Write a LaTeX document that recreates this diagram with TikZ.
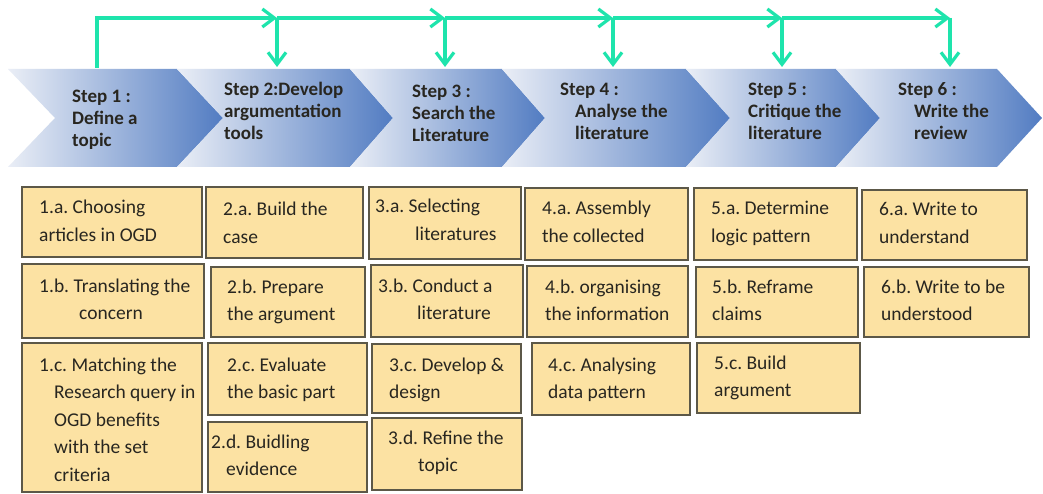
\documentclass[tikz,border=0pt]{standalone}
\usepackage{fontspec}
\setmainfont{Carlito}
\usetikzlibrary{arrows.meta,fit}
\definecolor{arrowc}{RGB}{30,228,172}
\definecolor{chevL}{RGB}{234,238,246}
\definecolor{chevR}{RGB}{82,124,194}
\definecolor{boxfill}{RGB}{252,226,163}
\definecolor{boxline}{RGB}{92,88,72}
\definecolor{txt}{RGB}{40,38,32}
\newcommand\mylines[1]{\begin{tabular}[t]{@{}l@{}}#1\end{tabular}}
\tikzset{
  flow/.style={draw=arrowc, line width=3.2pt, -{Straight Barb[length=12pt,width=18pt]}},
  boxst/.style={draw=boxline, fill=boxfill, line width=2pt, inner sep=0pt},
  boxtxt/.style={anchor=base west, inner sep=0pt, text=txt,
    font=\fontsize{19.5}{27.5}\selectfont\frenchspacing},
  steptxt/.style={anchor=base west, inner sep=0pt, text=txt,
    font=\fontsize{19}{22}\selectfont\bfseries\frenchspacing},
}
\newcommand\chev[4]{% left, notch, right-top, tip
  \shade[left color=chevL, right color=chevR]
    (#1,69) -- (#3,69) -- (#4,118) -- (#3,167) -- (#1,167) -- (#2,118) -- cycle;}
\newcommand\tbox[8]{%
  \coordinate (#1nw) at (#2,#3);
  \coordinate (#1se) at (#4,#5);
  \node[boxst, fit=(#1nw)(#1se)] (#1box) {};
  \node[boxtxt] (#1) at (#6,#7) {\mylines{#8}};}
\begin{document}
\begin{tikzpicture}[x=1pt,y=-1pt]
\useasboundingbox (0,0) rectangle (1043,494);
\fill[white] (0,0) rectangle (1043,494);
% chevrons
\chev{8}{55}{177}{223}
\chev{177}{223}{350}{393}
\chev{350}{393}{502}{545}
\chev{502}{545}{686}{730}
\chev{686}{730}{836}{880}
\chev{836}{880}{997}{1042}
% step labels
\node[steptxt] (s1) at (72,103) {\mylines{Step 1 :\\Define a\\topic}};
\node[steptxt] (s2) at (224,96) {\mylines{Step 2:Develop\\argumentation\\tools}};
\node[steptxt] (s3) at (412,98) {\mylines{Step 3 :\\Search the\\Literature}};
\node[steptxt] (s4) at (560,96) {\mylines{Step 4 :\\\hspace*{15pt}Analyse the\\\hspace*{15pt}literature}};
\node[steptxt] (s5) at (748,96) {\mylines{Step 5 :\\Critique the\\literature}};
\node[steptxt] (s6) at (898,96) {\mylines{Step 6 :\\\hspace*{16pt}Write the\\\hspace*{16pt}review}};
% connector coordinates
\coordinate (c1) at (97,68);
\coordinate (b2) at (277,18);
\coordinate (b3) at (445,18);
\coordinate (b4) at (613,18);
\coordinate (b5) at (782,18);
\coordinate (b6) at (950,18);
\coordinate (c2) at (277,67);
\coordinate (c3) at (445,67);
\coordinate (c4) at (613,67);
\coordinate (c5) at (782,67);
\coordinate (c6) at (950,67);
\draw[flow] (c1) |- (b2);
\draw[flow] (b2) -- (b3);
\draw[flow] (b3) -- (b4);
\draw[flow] (b4) -- (b5);
\draw[flow] (b5) -- (b6);
\draw[flow] (b2) -- (c2);
\draw[flow] (b3) -- (c3);
\draw[flow] (b4) -- (c4);
\draw[flow] (b5) -- (c5);
\draw[flow] (b6) -- (c6);
% task boxes
\tbox{t1a}{22}{187}{202}{257}{39}{214}{1.a. Choosing\\articles in OGD}
\tbox{t1b}{22}{264}{204}{338}{39}{292}{1.b. Translating the\\\hspace*{40pt}concern}
\tbox{t1c}{22}{343}{202}{492}{39}{371}{1.c. Matching the\\\hspace*{15pt}Research query in\\\hspace*{15pt}OGD benefits\\\hspace*{15pt}with the set\\\hspace*{15pt}criteria}
\tbox{t2a}{206}{187}{363}{258}{223}{216}{2.a. Build the\\case}
\tbox{t2b}{211}{267}{365}{337}{227}{293}{2.b. Prepare\\the argument}
\tbox{t2c}{208}{343}{367}{415}{227}{371}{2.c. Evaluate\\the basic part}
\tbox{t2d}{208}{422}{367}{492}{211}{448}{2.d. Buidling\\\hspace*{15pt}evidence}
\tbox{t3a}{369}{187}{521}{259}{375}{213}{3.a. Selecting\\\hspace*{40pt}literatures}
\tbox{t3b}{371}{265}{523}{337}{378}{292}{3.b. Conduct a\\\hspace*{39pt}literature}
\tbox{t3c}{372}{344}{521}{413}{389}{371}{3.c. Develop \&\\design}
\tbox{t3d}{372}{418}{522}{490}{388}{444}{3.d. Refine the\\\hspace*{30pt}topic}
\tbox{t4a}{525}{188}{688}{260}{542}{215}{4.a. Assembly\\the collected}
\tbox{t4b}{527}{266}{688}{337}{545}{293}{4.b. organising\\the information}
\tbox{t4c}{532}{343}{690}{415}{548}{371}{4.c. Analysing\\data pattern}
\tbox{t5a}{694}{188}{857}{260}{711}{215}{5.a. Determine\\logic pattern}
\tbox{t5b}{696}{267}{858}{337}{712}{293}{5.b. Reframe\\claims}
\tbox{t5c}{697}{343}{860}{413}{714}{369}{5.c. Build\\argument}
\tbox{t6a}{862}{190}{1027}{260}{879}{216}{6.a. Write to\\understand}
\tbox{t6b}{864}{267}{1029}{337}{881}{293}{6.b. Write to be\\understood}
\end{tikzpicture}
\end{document}
